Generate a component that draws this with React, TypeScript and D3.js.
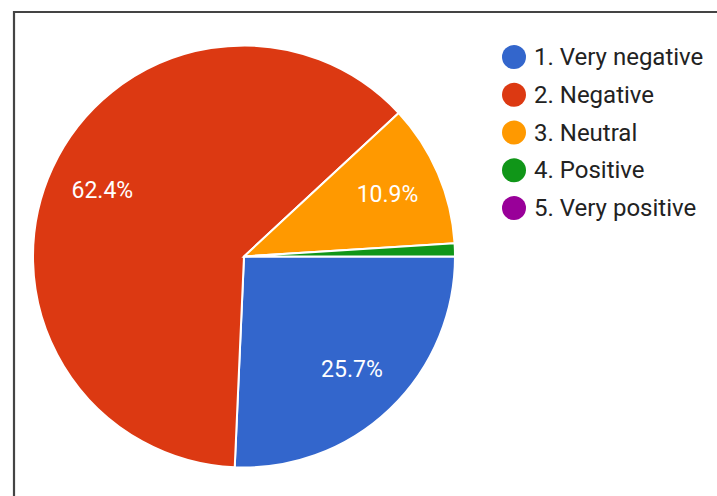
import React from "react";
import * as d3 from "d3";

const categories = ["1. Very negative", "2. Negative", "3. Neutral", "4. Positive", "5. Very positive"];
const values = [25.7, 62.4, 10.9, 1.0, 0];
const colors = ["#3366cc", "#dc3912", "#ff9900", "#109618", "#990099"];

const W = 717;
const H = 496;
const cx = 244;
const cy = 256.5;
const R = 211;

export default function App() {
  const data = categories.map((c, i) => ({ c, v: values[i], color: colors[i] }));
  const pie = d3
    .pie<any>()
    .value((d) => d.v)
    .sort(null)
    .startAngle(Math.PI / 2)
    .endAngle(Math.PI / 2 + 2 * Math.PI);
  const arcs = pie(data);
  const arc = d3.arc<any>().innerRadius(0).outerRadius(R);
  const labelArc = d3.arc<any>().innerRadius(R * 0.74).outerRadius(R * 0.74);
  const legendY = d3.scalePoint<string>().domain(categories).range([57, 208]);

  return (
    <svg
      width={W}
      height={H}
      style={{ position: "absolute", left: 0, top: 0, background: "#fff" }}
      fontFamily="Roboto, sans-serif"
    >
      <rect x={0} y={0} width={W} height={H} fill="#fff" />
      <path d={`M14,${H} L14,12 L${W},12`} fill="none" stroke="#444" strokeWidth={2.2} />
      <g transform={`translate(${cx},${cy})`}>
        {arcs.map((a, i) =>
          a.data.v > 0 ? (
            <path key={i} d={arc(a) || ""} fill={a.data.color} stroke="#fff" strokeWidth={2} />
          ) : null
        )}
        {arcs.map((a, i) => {
          if (a.data.v < 5) return null;
          const [x, y] = labelArc.centroid(a);
          return (
            <text
              key={"l" + i}
              x={x}
              y={y}
              textAnchor="middle"
              dominantBaseline="central"
              fill="#fff"
              fontSize={23}
            >
              {a.data.v.toFixed(1)}%
            </text>
          );
        })}
      </g>
      <g>
        {categories.map((c, i) => (
          <g key={c}>
            <circle cx={514} cy={legendY(c)} r={12} fill={colors[i]} />
            <text x={534} y={legendY(c)} dominantBaseline="central" fontSize={24} fill="#222">
              {c}
            </text>
          </g>
        ))}
      </g>
    </svg>
  );
}
